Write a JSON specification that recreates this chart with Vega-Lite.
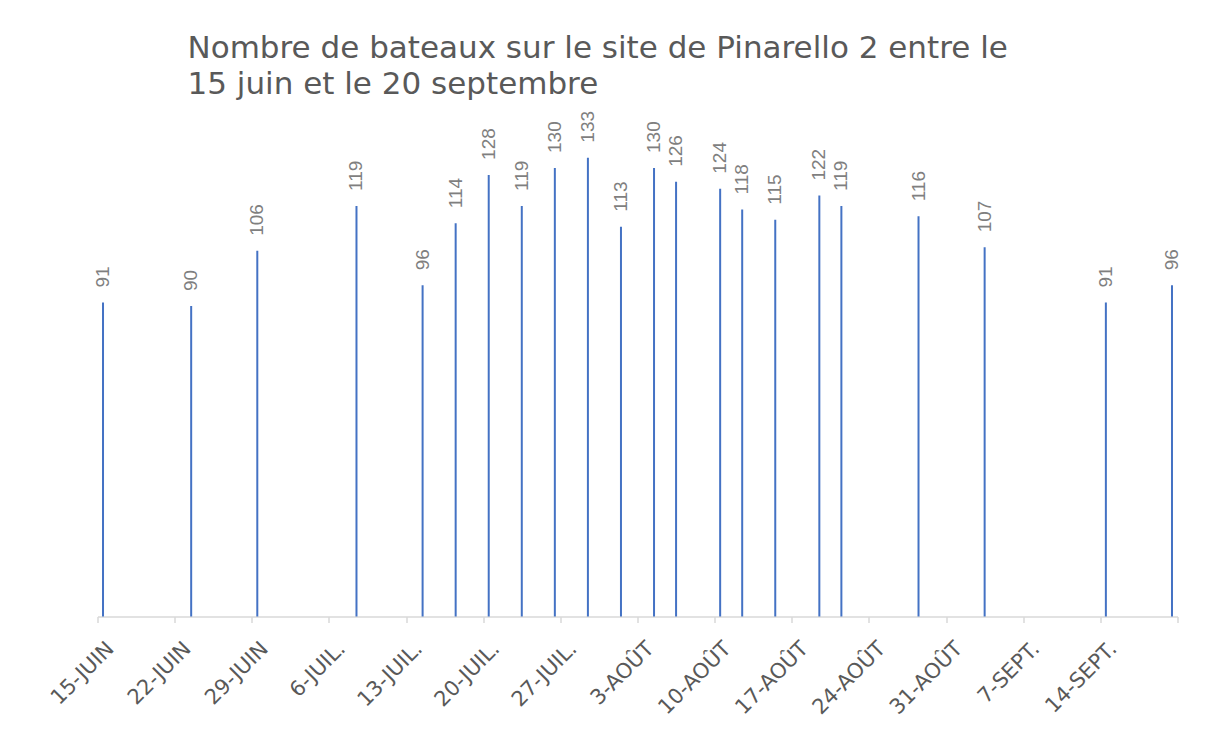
{
  "$schema": "https://vega.github.io/schema/vega-lite/v6.json",
  "autosize": "none",
  "width": 1080,
  "height": 483,
  "padding": {"left": 97.5, "top": 133.5, "right": 28.5, "bottom": 114.5},
  "background": "white",
  "config": {"view": {"stroke": null}},
  "title": {
    "text": ["Nombre de bateaux sur le site de Pinarello 2 entre le", "15 juin et le 20 septembre"],
    "anchor": "start",
    "frame": "group",
    "dx": 90,
    "font": "DejaVu Sans",
    "fontSize": 31,
    "fontWeight": "normal",
    "color": "#595959",
    "lineHeight": 36,
    "offset": 10
  },
  "data": {
    "values": [
      {"date": "2020-06-15T12:00:00", "n": 91},
      {"date": "2020-06-23T12:00:00", "n": 90},
      {"date": "2020-06-29T12:00:00", "n": 106},
      {"date": "2020-07-08T12:00:00", "n": 119},
      {"date": "2020-07-14T12:00:00", "n": 96},
      {"date": "2020-07-17T12:00:00", "n": 114},
      {"date": "2020-07-20T12:00:00", "n": 128},
      {"date": "2020-07-23T12:00:00", "n": 119},
      {"date": "2020-07-26T12:00:00", "n": 130},
      {"date": "2020-07-29T12:00:00", "n": 133},
      {"date": "2020-08-01T12:00:00", "n": 113},
      {"date": "2020-08-04T12:00:00", "n": 130},
      {"date": "2020-08-06T12:00:00", "n": 126},
      {"date": "2020-08-10T12:00:00", "n": 124},
      {"date": "2020-08-12T12:00:00", "n": 118},
      {"date": "2020-08-15T12:00:00", "n": 115},
      {"date": "2020-08-19T12:00:00", "n": 122},
      {"date": "2020-08-21T12:00:00", "n": 119},
      {"date": "2020-08-28T12:00:00", "n": 116},
      {"date": "2020-09-03T12:00:00", "n": 107},
      {"date": "2020-09-14T12:00:00", "n": 91},
      {"date": "2020-09-20T12:00:00", "n": 96}
    ]
  },
  "encoding": {
    "x": {
      "field": "date",
      "type": "temporal",
      "title": null,
      "scale": {
        "domain": [{"year": 2020, "month": 6, "date": 15}, {"year": 2020, "month": 9, "date": 21}],
        "nice": false
      },
      "axis": {
        "values": [
          {"year": 2020, "month": 6, "date": 15},
          {"year": 2020, "month": 6, "date": 22},
          {"year": 2020, "month": 6, "date": 29},
          {"year": 2020, "month": 7, "date": 6},
          {"year": 2020, "month": 7, "date": 13},
          {"year": 2020, "month": 7, "date": 20},
          {"year": 2020, "month": 7, "date": 27},
          {"year": 2020, "month": 8, "date": 3},
          {"year": 2020, "month": 8, "date": 10},
          {"year": 2020, "month": 8, "date": 17},
          {"year": 2020, "month": 8, "date": 24},
          {"year": 2020, "month": 8, "date": 31},
          {"year": 2020, "month": 9, "date": 7},
          {"year": 2020, "month": 9, "date": 14},
          {"year": 2020, "month": 9, "date": 21}
        ],
        "labelExpr": "(month(datum.value) == 8 && date(datum.value) == 21) ? '' : date(datum.value) + '-' + ['JANV.','FÉVR.','MARS','AVR.','MAI','JUIN','JUIL.','AOÛT','SEPT.','OCT.','NOV.','DÉC.'][month(datum.value)]",
        "labelAngle": -45,
        "labelAlign": "right",
        "labelBaseline": "top",
        "labelFont": "DejaVu Sans",
        "labelFontSize": 21,
        "labelColor": "#595959",
        "labelPadding": 15,
        "labelOffset": 5,
        "labelOverlap": false,
        "labelBound": false,
        "labelFlush": false,
        "grid": false,
        "domainColor": "#d9d9d9",
        "domainWidth": 1.5,
        "tickColor": "#d9d9d9",
        "tickWidth": 1.5,
        "tickSize": 6
      }
    }
  },
  "layer": [
    {
      "mark": {"type": "rule", "color": "#4472C4", "strokeWidth": 2},
      "encoding": {
        "y": {"field": "n", "type": "quantitative", "scale": {"domain": [0, 140], "nice": false}, "axis": null},
        "y2": {"datum": 0}
      }
    },
    {
      "mark": {
        "type": "text",
        "angle": 270,
        "align": "left",
        "baseline": "middle",
        "dx": 15,
        "font": "Liberation Sans",
        "fontSize": 19,
        "color": "#7f7f7f"
      },
      "encoding": {
        "y": {"field": "n", "type": "quantitative"},
        "text": {"field": "n", "type": "quantitative"}
      }
    }
  ]
}
